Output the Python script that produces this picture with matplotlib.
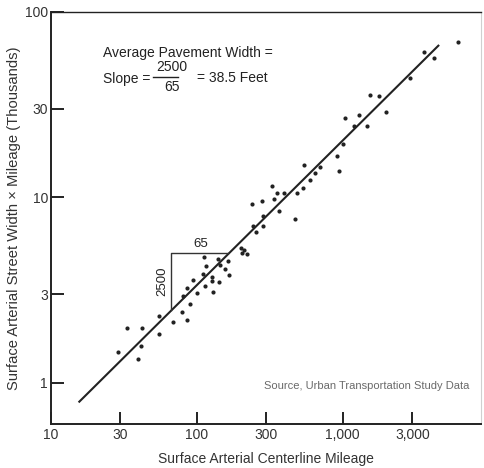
import numpy as np
import matplotlib
matplotlib.use("Agg")
import matplotlib.pyplot as plt
from matplotlib.lines import Line2D

plt.rcParams['font.family'] = ['Liberation Sans', 'DejaVu Sans']

# centerline mileage vs. width x mileage (thousands) for each study area
mileage = [28.8, 33.5, 42.0, 41.2, 39.6, 55.2, 55.5, 69.2, 78.9, 85.5,
           90.0, 80.0, 99.7, 129.4, 86.2, 93.6, 111.0, 114.8, 127.3, 142.6,
           165.1, 111.7, 140.6, 164.5, 115.4, 145.2, 155.0, 126.7, 199.5, 210.9,
           202.8, 220.3, 238.2, 280.0, 326.7, 354.8, 394.3, 339.6, 366.4, 282.3,
           243.0, 285.8, 255.9, 473.2, 484.2, 530.9, 547.0, 594.3, 649.2, 695.4,
           918.6, 948.4, 1009, 1037, 1300, 1195, 1459, 1527, 1783, 1963,
           2877, 3606, 4198, 6194]
width_x_mileage = [1.46, 1.98, 1.98, 1.58, 1.34, 2.28, 1.83, 2.12, 2.41, 2.18,
                   2.65, 2.92, 3.05, 3.07, 3.23, 3.59, 3.84, 3.32, 3.52, 3.48,
                   3.82, 4.79, 4.66, 4.56, 4.26, 4.32, 4.10, 3.70, 5.30, 5.20,
                   5.03, 4.95, 9.21, 9.53, 11.5, 10.5, 10.5, 9.77, 8.47, 7.93,
                   7.00, 7.00, 6.50, 7.62, 10.6, 11.3, 14.9, 12.4, 13.5, 14.5,
                   16.7, 13.9, 19.4, 26.9, 27.9, 24.2, 24.4, 35.7, 35.0, 28.7,
                   44.2, 60.6, 56.7, 69.3]

# fitted line and the slope triangle (rise 2500, run 65)
fit_x = [15.7, 4518]
fit_y = [0.79, 65.8]
tri_x = [66.4, 66.4, 164.0]
tri_y = [2.48, 5.0, 5.0]

x_ticks = [10, 30, 100, 300, 1000, 3000]
x_labels = ['10', '30', '100', '300', '1,000', '3,000']
y_ticks = [1, 3, 10, 30, 100]
y_labels = ['1', '3', '10', '30', '100']

ink = '#222222'

fig = plt.figure(figsize=(4.84, 4.68), dpi=100)
ax = fig.add_axes([0.1048, 0.0944, 0.889, 0.880])
ax.set_xscale('log')
ax.set_yscale('log')
ax.set_xlim(10, 8850)
ax.set_ylim(0.6, 100)

ax.scatter(mileage, width_x_mileage, s=9, color=ink, linewidths=0, zorder=3)
ax.plot(fit_x, fit_y, color=ink, linewidth=1.5, zorder=2)
ax.plot(tri_x, tri_y, color='#333333', linewidth=1.0, zorder=2)

ax.set_xticks(x_ticks)
ax.set_xticklabels(x_labels)
ax.set_yticks(y_ticks)
ax.set_yticklabels(y_labels)
ax.minorticks_off()
ax.tick_params(axis='both', direction='in', width=1.4, colors=ink,
               labelcolor='#333333', labelsize=10)
ax.tick_params(axis='x', length=8.5, pad=3)
ax.tick_params(axis='y', length=9.5, pad=2)
# the "1" tick mark is printed in yellow
ax.yaxis.get_major_ticks()[0].tick1line.set_color('#e8cf6a')

for side in ['left', 'bottom', 'top']:
    ax.spines[side].set_color(ink)
    ax.spines[side].set_linewidth(1.4)
ax.spines['top'].set_linewidth(1.0)
ax.spines['right'].set_color('#d0d0d0')
ax.spines['right'].set_linewidth(0.8)

ax.set_xlabel('Surface Arterial Centerline Mileage', fontsize=10, color='#333333', labelpad=7)
ax.set_ylabel('Surface Arterial Street Width \u00d7 Mileage (Thousands)', fontsize=10.6,
              color='#333333', labelpad=3)

# slope annotation
tc = '#222222'
ax.text(0.1215, 0.900, 'Average Pavement Width =', transform=ax.transAxes,
        fontsize=10, color=tc, ha='left', va='center')
ax.text(0.1215, 0.838, 'Slope =', transform=ax.transAxes,
        fontsize=10, color=tc, ha='left', va='center')
ax.text(0.2807, 0.866, '2500', transform=ax.transAxes,
        fontsize=10, color=tc, ha='center', va='center')
ax.text(0.2807, 0.818, '65', transform=ax.transAxes,
        fontsize=10, color=tc, ha='center', va='center')
ax.add_line(Line2D([0.2377, 0.2967], [0.8414, 0.8414], transform=ax.transAxes,
                   color=tc, linewidth=1.0))
ax.text(0.340, 0.840, '= 38.5 Feet', transform=ax.transAxes,
        fontsize=10, color=tc, ha='left', va='center')

ax.text(0.3495, 0.4366, '65', transform=ax.transAxes,
        fontsize=9.5, color=tc, ha='center', va='center')
ax.text(0.2603, 0.3451, '2500', transform=ax.transAxes, rotation=90,
        fontsize=9.5, color=tc, ha='center', va='center')

ax.text(0.4957, 0.0925, 'Source, Urban Transportation Study Data', transform=ax.transAxes,
        fontsize=8, color='#6a6a6a', ha='left', va='center')

fig.savefig('out.png', dpi=100)
